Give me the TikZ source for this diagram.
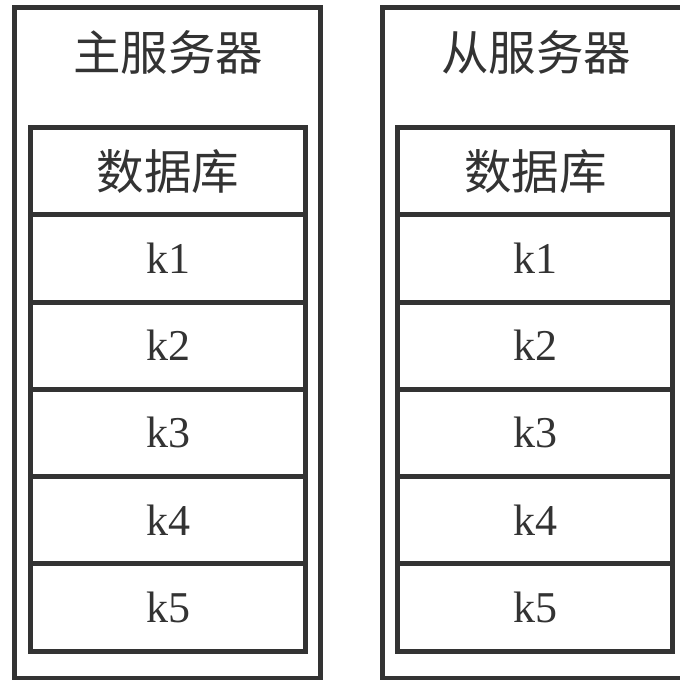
\documentclass[tikz,border=0pt]{standalone}
\usepackage{fontspec}
\setmainfont{Liberation Serif}
\newfontfamily\cjk{Noto Sans CJK SC}
\definecolor{ln}{HTML}{333333}
\begin{document}
\begin{tikzpicture}[x=1pt,y=-1pt,
  outerbox/.style={draw=ln,line width=5pt,minimum width=306pt,minimum height=671pt,inner sep=0pt},
  cell/.style={draw=ln,line width=5pt,minimum width=275pt,minimum height=87.25pt,inner sep=0pt,text=ln,font=\fontsize{44}{48}\selectfont},
  cjkcell/.style={cell,font=\cjk\fontsize{47.5}{50}\selectfont},
  title/.style={text=ln,font=\cjk\fontsize{47.5}{50}\selectfont,inner sep=0pt}]
\useasboundingbox (0,0) rectangle (680,680);
\fill[white] (0,0) rectangle (680,680);
% left server
\node[outerbox] (lo) at (167.5,343) {};
\node[title] (lt) at (168,52) {主服务器};
\node[cjkcell] (lh) at (168,171.125) {数据库};
\node[cell] (l1) at (168,258.375) {k1};
\node[cell] (l2) at (168,345.625) {k2};
\node[cell] (l3) at (168,432.875) {k3};
\node[cell] (l4) at (168,520.125) {k4};
\node[cell] (l5) at (168,607.375) {k5};
% right server
\node[outerbox] (ro) at (535.5,343) {};
\node[title] (rt) at (536,52) {从服务器};
\node[cjkcell] (rh) at (535.25,171.125) {数据库};
\node[cell] (r1) at (535.25,258.375) {k1};
\node[cell] (r2) at (535.25,345.625) {k2};
\node[cell] (r3) at (535.25,432.875) {k3};
\node[cell] (r4) at (535.25,520.125) {k4};
\node[cell] (r5) at (535.25,607.375) {k5};
\end{tikzpicture}
\end{document}
